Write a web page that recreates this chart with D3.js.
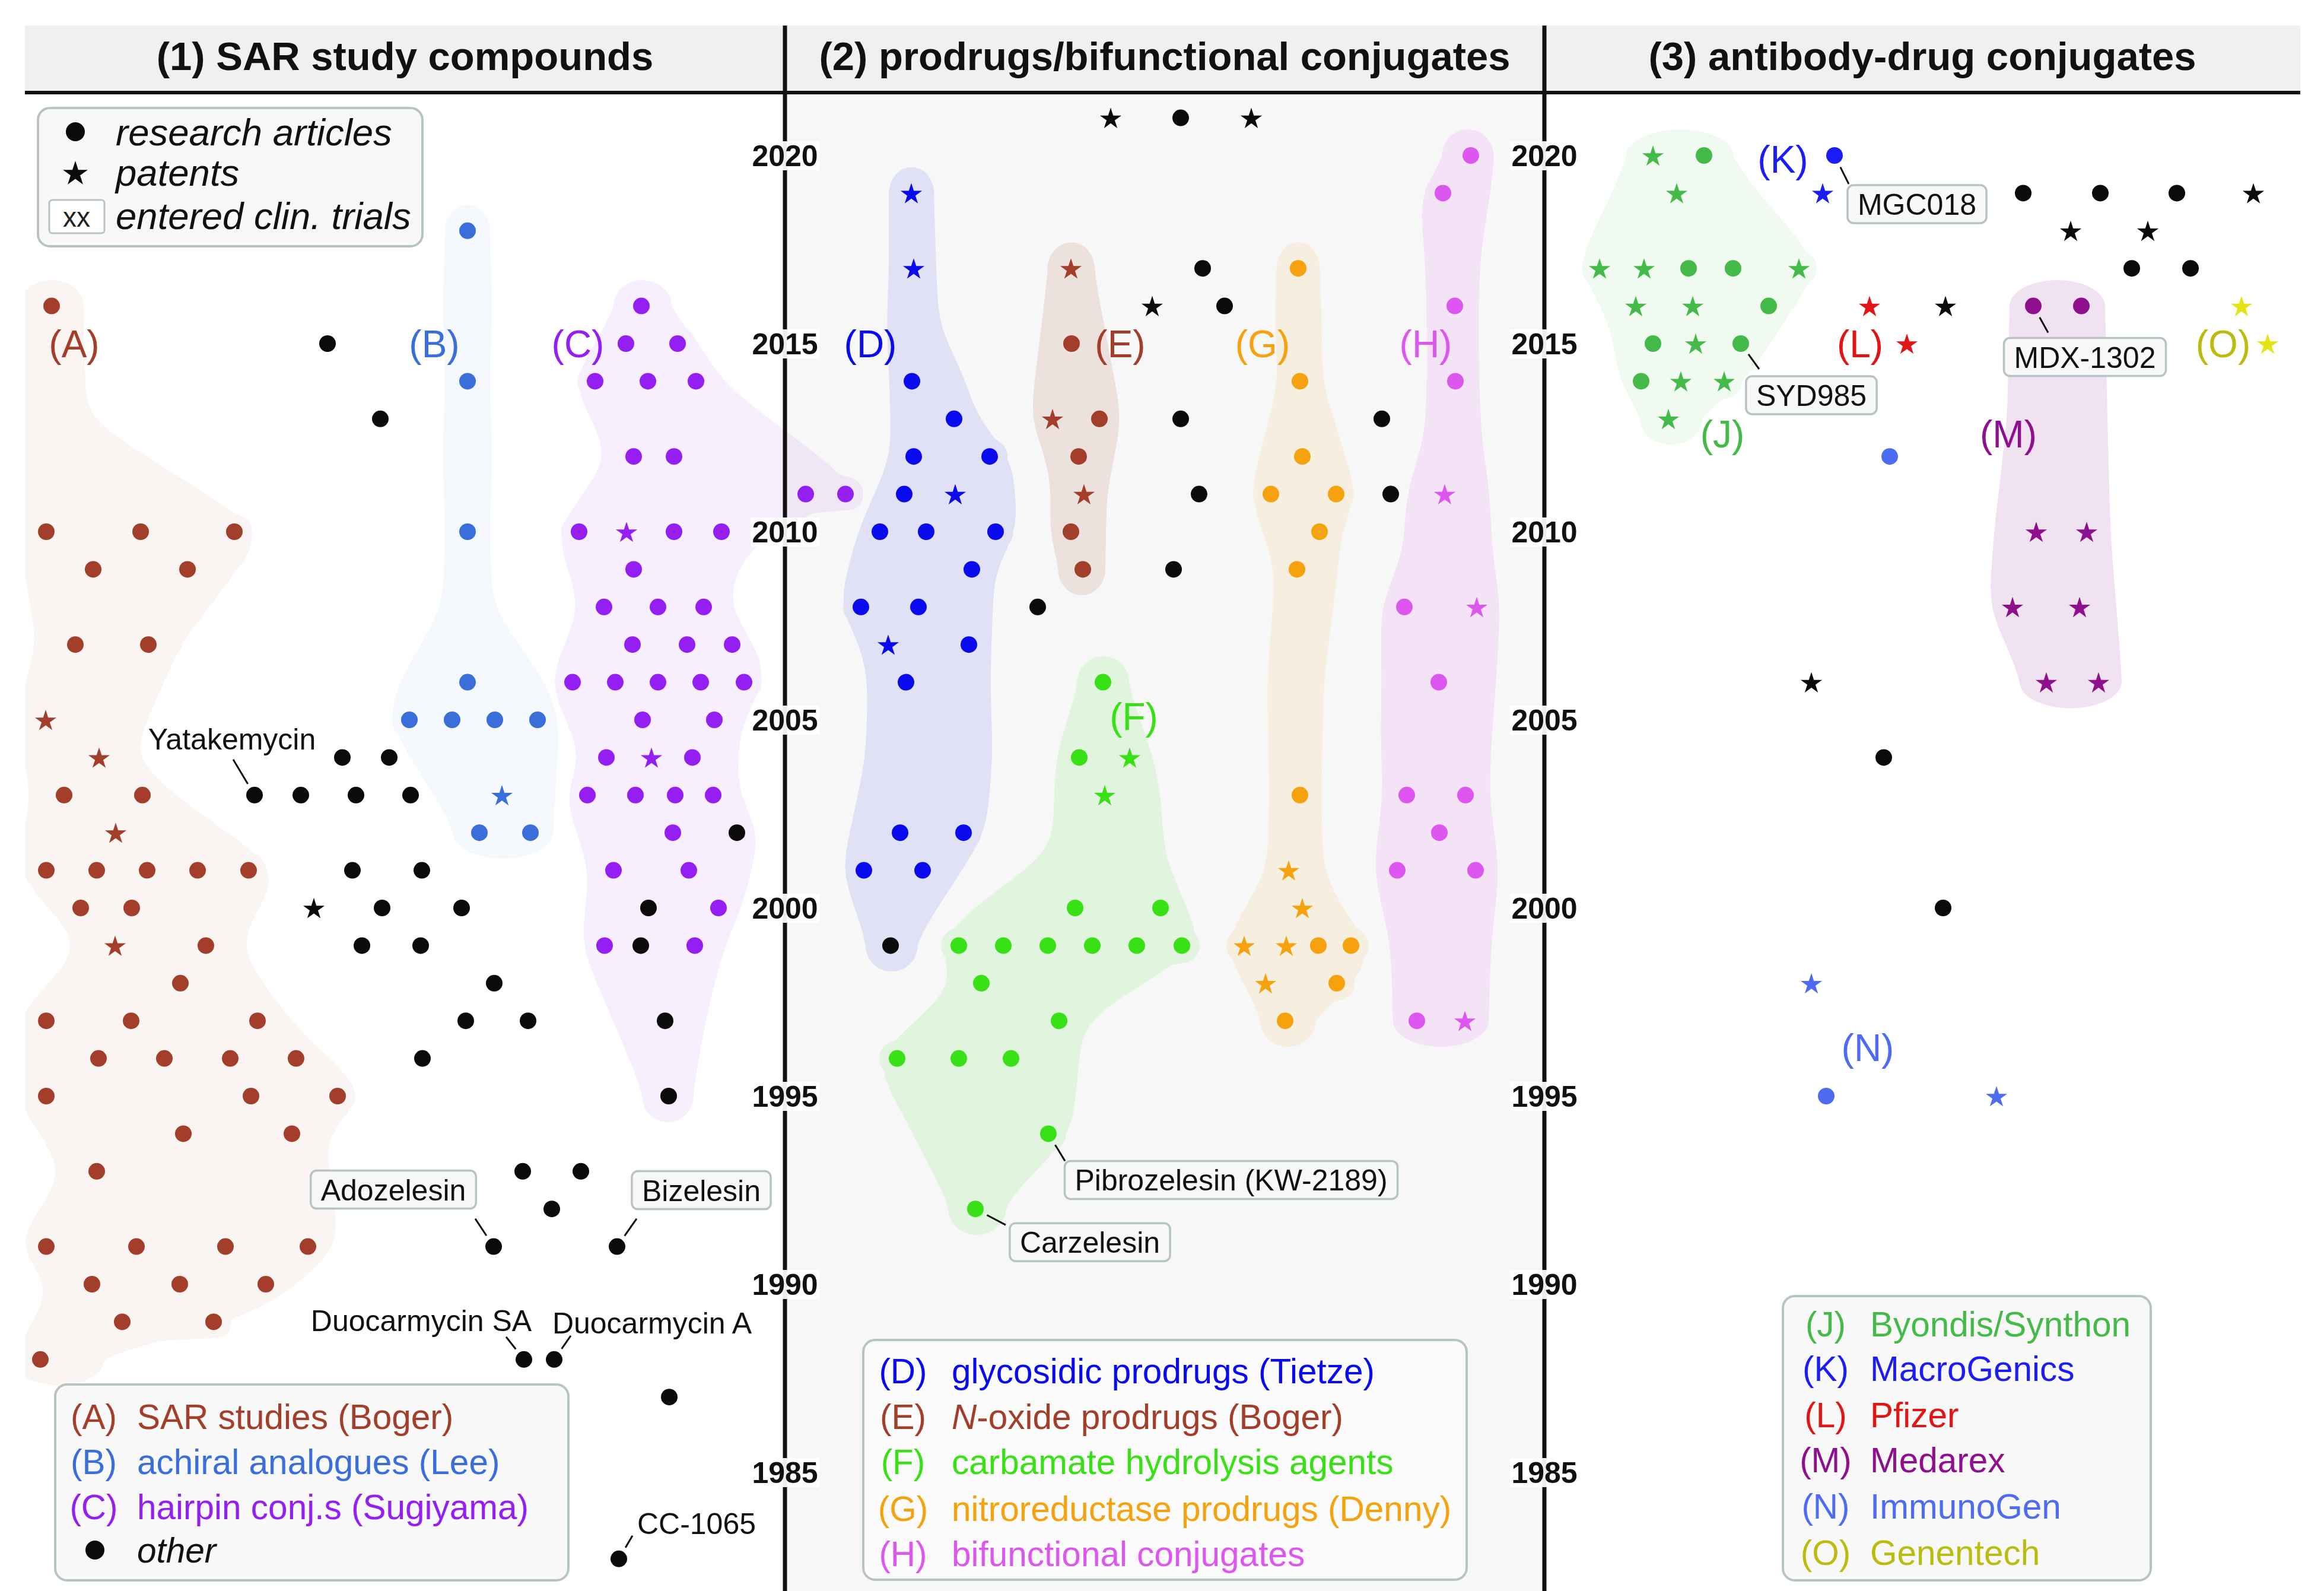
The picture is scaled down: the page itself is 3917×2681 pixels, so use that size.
<!DOCTYPE html>
<html><head><meta charset="utf-8">
<script src="https://cdn.jsdelivr.net/npm/d3@7"></script>
<style>body{margin:0;background:#fff}svg{display:block}</style>
</head><body>
<script>
// ---------------- DATA ----------------
const panelTitles = ["(1) SAR study compounds", "(2) prodrugs/bifunctional conjugates", "(3) antibody-drug conjugates"];
const yearTicks = [2020, 2015, 2010, 2005, 2000, 1995, 1990, 1985];
const groupIds = ["A","B","C","D","E","F","G","H","J","K","L","M","N","O"];
const groupNames = {
  A:"SAR studies (Boger)", B:"achiral analogues (Lee)", C:"hairpin conj.s (Sugiyama)",
  D:"glycosidic prodrugs (Tietze)", E:"N-oxide prodrugs (Boger)", F:"carbamate hydrolysis agents",
  G:"nitroreductase prodrugs (Denny)", H:"bifunctional conjugates",
  J:"Byondis/Synthon", K:"MacroGenics", L:"Pfizer", M:"Medarex", N:"ImmunoGen", O:"Genentech"
};
const legendGroups = [["A","B","C"],["D","E","F","G","H"],["J","K","L","M","N","O"]];
const symbolLegend = ["research articles", "patents", "entered clin. trials"];
// points: [year, lateral position, kind] kind: a = research article, p = patent
const ptsA = [[2016,87,'a'],[2010,78,'a'],[2010,237,'a'],[2010,395,'a'],[2009,157,'a'],[2009,316,'a'],
 [2007,127,'a'],[2007,250,'a'],[2005,77,'p'],[2004,167,'p'],[2003,108,'a'],[2003,240,'a'],[2002,195,'p'],
 [2001,78,'a'],[2001,163,'a'],[2001,248,'a'],[2001,333,'a'],[2001,419,'a'],[2000,136,'a'],[2000,222,'a'],
 [1999,194,'p'],[1999,347,'a'],[1998,304,'a'],[1997,78,'a'],[1997,221,'a'],[1997,434,'a'],
 [1996,166,'a'],[1996,277,'a'],[1996,388,'a'],[1996,499,'a'],[1995,78,'a'],[1995,423,'a'],[1995,569,'a'],
 [1994,309,'a'],[1994,492,'a'],[1993,163,'a'],[1991,78,'a'],[1991,230,'a'],[1991,380,'a'],[1991,519,'a'],
 [1990,155,'a'],[1990,303,'a'],[1990,448,'a'],[1989,206,'a'],[1989,360,'a'],[1988,68,'a']];
const ptsB = [[2018,788,'a'],[2014,788,'a'],[2010,788,'a'],[2006,788,'a'],[2005,690,'a'],[2005,762,'a'],
 [2005,834,'a'],[2005,906,'a'],[2003,846,'p'],[2002,808,'a'],[2002,894,'a']];
const ptsC = [[2016,1081,'a'],[2015,1055,'a'],[2015,1142,'a'],[2014,1003,'a'],[2014,1092,'a'],[2014,1173,'a'],
 [2012,1068,'a'],[2012,1136,'a'],[2011,1358,'a'],[2011,1425,'a'],[2010,976,'a'],[2010,1056,'p'],[2010,1136,'a'],
 [2010,1216,'a'],[2009,1068,'a'],[2008,1018,'a'],[2008,1109,'a'],[2008,1186,'a'],[2007,1066,'a'],[2007,1158,'a'],
 [2007,1234,'a'],[2006,965,'a'],[2006,1037,'a'],[2006,1109,'a'],[2006,1181,'a'],[2006,1254,'a'],[2005,1083,'a'],
 [2005,1204,'a'],[2004,1022,'a'],[2004,1098,'p'],[2004,1167,'a'],[2003,990,'a'],[2003,1071,'a'],[2003,1138,'a'],
 [2003,1202,'a'],[2002,1134,'a'],[2001,1034,'a'],[2001,1161,'a'],[2000,1211,'a'],[1999,1019,'a'],[1999,1171,'a']];
const ptsD = [[2019,1536,'p'],[2017,1540,'p'],[2014,1537,'a'],[2013,1608,'a'],[2012,1540,'a'],[2012,1668,'a'],
 [2011,1524,'a'],[2011,1610,'p'],[2010,1483,'a'],[2010,1561,'a'],[2010,1678,'a'],[2009,1638,'a'],
 [2008,1451,'a'],[2008,1548,'a'],[2007,1497,'p'],[2007,1633,'a'],[2006,1527,'a'],[2002,1517,'a'],[2002,1624,'a'],
 [2001,1456,'a'],[2001,1555,'a']];
const ptsE = [[2017,1805,'p'],[2015,1806,'a'],[2013,1774,'p'],[2013,1853,'a'],[2012,1818,'a'],[2011,1827,'p'],
 [2010,1805,'a'],[2009,1825,'a']];
const ptsF = [[2006,1859,'a'],[2004,1819,'a'],[2004,1904,'p'],[2003,1862,'p'],[2000,1812,'a'],[2000,1956,'a'],
 [1999,1616,'a'],[1999,1691,'a'],[1999,1766,'a'],[1999,1841,'a'],[1999,1916,'a'],[1999,1992,'a'],[1998,1654,'a'],
 [1997,1785,'a'],[1996,1512,'a'],[1996,1616,'a'],[1996,1704,'a'],[1994,1767,'a'],[1992,1644,'a']];
const ptsG = [[2017,2188,'a'],[2014,2191,'a'],[2012,2195,'a'],[2011,2142,'a'],[2011,2252,'a'],[2010,2224,'a'],
 [2009,2186,'a'],[2003,2191,'a'],[2001,2172,'p'],[2000,2195,'p'],[1999,2097,'p'],[1999,2168,'p'],[1999,2222,'a'],
 [1999,2277,'a'],[1998,2133,'p'],[1998,2253,'a'],[1997,2166,'a']];
const ptsH = [[2020,2479,'a'],[2019,2432,'a'],[2016,2452,'a'],[2014,2453,'a'],[2011,2435,'p'],[2008,2367,'a'],
 [2008,2489,'p'],[2006,2425,'a'],[2003,2371,'a'],[2003,2470,'a'],[2002,2426,'a'],[2001,2355,'a'],[2001,2487,'a'],
 [1997,2388,'a'],[1997,2469,'p']];
const ptsJ = [[2020,2786,'p'],[2020,2872,'a'],[2019,2826,'p'],[2017,2696,'p'],[2017,2771,'p'],[2017,2846,'a'],
 [2017,2921,'a'],[2017,3032,'p'],[2016,2757,'p'],[2016,2853,'p'],[2016,2981,'a'],[2015,2786,'a'],[2015,2858,'p'],
 [2015,2934,'a'],[2014,2766,'a'],[2014,2833,'p'],[2014,2906,'p'],[2013,2812,'p']];
const ptsK = [[2020,3092,'a'],[2019,3072,'p']];
const ptsL = [[2016,3151,'p'],[2015,3214,'p']];
const ptsM = [[2016,3427,'a'],[2016,3508,'a'],[2010,3432,'p'],[2010,3517,'p'],[2008,3392,'p'],[2008,3505,'p'],
 [2006,3449,'p'],[2006,3537,'p']];
const ptsN = [[2012,3185,'a'],[1998,3053,'p'],[1995,3078,'a'],[1995,3365,'p']];
const ptsO = [[2016,3778,'p'],[2015,3822,'p']];
// other compounds: [year, lateral position, kind, cluster they sit in]
const ptsOther = [[2015,552,'a'],[2013,641,'a'],[2004,577,'a'],[2004,656,'a'],[2003,429,'a'],[2003,507,'a'],
 [2003,600,'a'],[2003,692,'a'],[2001,594,'a'],[2001,711,'a'],[2000,529,'p'],[2000,644,'a'],[2000,778,'a'],
 [1999,610,'a'],[1999,709,'a'],[1998,833,'a'],[1997,785,'a'],[1997,890,'a'],[1996,712,'a'],[1993,881,'a'],
 [1993,979,'a'],[1992,930,'a'],[1991,832,'a'],[1991,1040,'a'],[1988,883,'a'],[1988,934,'a'],[1987,1128,'a'],
 [1982.7,1043,'a'],
 [2002,1242,'a','C'],[2000,1093,'a','C'],[1999,1080,'a','C'],[1997,1121,'a','C'],[1995,1127,'a','C'],
 [2021,1872,'p'],[2021,1990,'a'],[2021,2109,'p'],[2017,2027,'a'],[2016,1942,'p'],[2016,2064,'a'],
 [2013,1990,'a'],[2013,2329,'a'],[2011,2021,'a'],[2011,2344,'a'],[2009,1978,'a'],[2008,1749,'a'],
 [1999,1501,'a','D'],
 [2019,3410,'a'],[2019,3540,'a'],[2019,3669,'a'],[2019,3798,'p'],[2018,3490,'p'],[2018,3620,'p'],
 [2017,3593,'a'],[2017,3692,'a'],[2016,3279,'p'],[2006,3053,'p'],[2004,3175,'a'],[2000,3275,'a']];
const groupPoints = {A:ptsA,B:ptsB,C:ptsC,D:ptsD,E:ptsE,F:ptsF,G:ptsG,H:ptsH,J:ptsJ,K:ptsK,L:ptsL,M:ptsM,N:ptsN,O:ptsO};
const blobGroups = ["A","B","C","D","E","F","G","H","J","M"];
// named compounds: name, year, lateral position, entered clinical trials
const annotNames = ["Yatakemycin","Adozelesin","Bizelesin","Duocarmycin SA","Duocarmycin A","CC-1065",
  "Pibrozelesin (KW-2189)","Carzelesin","MGC018","SYD985","MDX-1302"];
const annotYears = [2003,1991,1991,1988,1988,1982.7,1994,1992,2020,2015,2016];
const annotX = [429,832,1040,883,934,1043,1767,1644,3092,2934,3427];
const annotClinical = [false,true,true,false,false,false,true,true,true,true,true];

// ---------------- LAYOUT / STYLE ----------------
const W = 3917, H = 2681;
const FONT = '"Liberation Sans", Arial, Helvetica, sans-serif';
const LY = { left:42, right:3877, headTop:43, headBot:153, headLine:156, dividers:[1323,2603],
  dotR:14, starR:19, padY:44 };
const colors = {A:"#a33e2a",B:"#3a6fdb",C:"#951ef2",D:"#0a0aee",E:"#a33e2a",F:"#38e016",G:"#f6a20e",
  H:"#de56f0",J:"#44ba48",K:"#1c1cf4",L:"#e21414",M:"#8e108e",N:"#4e6cf2",O:"#bcbc10",other:"#0b0b0b"};
const markColors = Object.assign({}, colors, {O:"#e4e414"});
const blobOpacity = {A:0.055,B:0.05,C:0.075,D:0.09,E:0.12,F:0.11,G:0.1,H:0.13,J:0.08,M:0.12};
const blobPadX = {A:54,B:38,C:40,D:38,E:38,F:40,G:36,H:40,J:40,M:40};
const groupLabelPos = {A:[2015,125],B:[2015,732],C:[2015,974],D:[2015,1467],E:[2015,1888],F:[2005.1,1911],
  G:[2015,2128],H:[2015,2403],J:[2012.6,2903],K:[2019.9,3005],L:[2015,3135],M:[2012.6,3385],N:[1996.3,3148],O:[2015,3747]};
const annotLayout = [[-38,-95,-36,-60],[-169,-96,-31,-47],[142,-95,33,-47],[-173,-66,-30,-38],[165,-62,28,-40],
  [131,-60,23,-39],[308,78,28,46],[193,56,51,27],[139,82,24,48],[119,87,31,43],[87,86,25,45]];

// ---------------- SCALES ----------------
const xs = d3.scaleLinear().domain([0, 3917]).range([0, W]);
const ys = d3.scaleLinear().domain([2020, 1985]).range([262, 2481]);

const svg = d3.select("body").append("svg").attr("width", W).attr("height", H)
  .attr("font-family", FONT);

// backgrounds
svg.append("rect").attr("x", LY.dividers[0]).attr("y", LY.headBot).attr("width", LY.dividers[1]-LY.dividers[0])
  .attr("height", H-LY.headBot).attr("fill", "#f7f7f7");
svg.append("rect").attr("x", LY.left).attr("y", LY.headTop).attr("width", LY.right-LY.left)
  .attr("height", LY.headBot-LY.headTop).attr("fill", "#eff0f0");
svg.append("defs").append("clipPath").attr("id","plotClip").append("rect")
  .attr("x", LY.left).attr("y", LY.headLine).attr("width", W-LY.left).attr("height", H-LY.headLine);

// ---------------- BLOBS (smoothed envelopes of each cluster) ----------------
function blobOutline(pts, padX) {
  const padY = LY.padY;
  const rows = d3.rollups(pts, v => [d3.min(v, p => p[0]), d3.max(v, p => p[0])], p => p[1])
    .sort((a,b) => a[0]-b[0]);
  const n = rows.length;
  const py = rows.map(r => r[0]);
  const Lx = rows.map(r => r[1][0] - padX), Rx = rows.map(r => r[1][1] + padX);
  const L2 = Lx.slice(), R2 = Rx.slice();
  for (let i = 1; i < n-1; i++) {
    const t = (py[i]-py[i-1])/(py[i+1]-py[i-1]);
    L2[i] = Math.min(Lx[i], Lx[i-1] + t*(Lx[i+1]-Lx[i-1]));
    R2[i] = Math.max(Rx[i], Rx[i-1] + t*(Rx[i+1]-Rx[i-1]));
  }
  const yr = ys(2019) - ys(2020);
  const rr = [];
  for (let i = 0; i < n; i++) {
    rr.push({y: py[i], l: L2[i], r: R2[i]});
    if (i < n-1 && py[i+1]-py[i] > 2.5*yr) {
      const wa = R2[i]-L2[i], wb = R2[i+1]-L2[i+1];
      const k = wa < wb ? i : i+1;
      rr.push({y: (py[i]+py[i+1])/2, l: L2[k]-4, r: R2[k]+4});
    }
  }
  const y0 = rr[0].y, y1 = rr[rr.length-1].y;
  const N = Math.max(2, Math.round((y1-y0)/4)+1);
  const step = (y1-y0)/(N-1);
  const gy = d3.range(N).map(i => y0 + step*i);
  const iL = d3.scaleLinear().domain(rr.map(d => d.y)).range(rr.map(d => d.l));
  const iR = d3.scaleLinear().domain(rr.map(d => d.y)).range(rr.map(d => d.r));
  const sig = 30, rad = Math.ceil(3*sig/step);
  const smooth = arr => arr.map((_, i) => {
    let s = 0, w = 0;
    for (let k = -rad; k <= rad; k++) {
      const j = Math.min(N-1, Math.max(0, i+k));
      const kw = Math.exp(-0.5*Math.pow(k*step/sig, 2));
      s += arr[j]*kw; w += kw;
    }
    return s/w;
  });
  const Lg = smooth(gy.map(iL)), Rg = smooth(gy.map(iR));
  const cov = LY.dotR + 16;
  pts.forEach(([px, pyy]) => gy.forEach((yy, i) => {
    const dy = Math.abs(yy - pyy);
    if (dy < cov) { const w = Math.sqrt(cov*cov - dy*dy); Lg[i] = Math.min(Lg[i], px - w); Rg[i] = Math.max(Rg[i], px + w); }
  }));
  const ring = [];
  // top cap
  {
    const c = (Lg[0]+Rg[0])/2, hw = (Rg[0]-Lg[0])/2;
    for (let a = Math.PI; a < 2*Math.PI; a += Math.PI/16) ring.push([c + hw*Math.cos(a), y0 + padY*Math.sin(a)]);
  }
  for (let i = 0; i < N; i++) ring.push([Rg[i], gy[i]]);
  {
    const c = (Lg[N-1]+Rg[N-1])/2, hw = (Rg[N-1]-Lg[N-1])/2;
    for (let a = Math.PI/16; a < Math.PI; a += Math.PI/16) ring.push([c + hw*Math.cos(a), y1 + padY*Math.sin(a)]);
  }
  for (let i = N-1; i >= 0; i--) ring.push([Lg[i], gy[i]]);
  return ring;
}
const blobLine = d3.line().curve(d3.curveBasisClosed);
const blobG = svg.append("g").attr("clip-path", "url(#plotClip)");
blobGroups.forEach(g => {
  const pts = groupPoints[g].map(d => [xs(d[1]), ys(d[0])])
    .concat(ptsOther.filter(d => d[3] === g).map(d => [xs(d[1]), ys(d[0])]));
  blobG.append("path").attr("d", blobLine(blobOutline(pts, blobPadX[g])))
    .attr("fill", colors[g]).attr("fill-opacity", blobOpacity[g]);
});

// header line + dividers
svg.append("line").attr("x1", LY.left).attr("x2", LY.right).attr("y1", LY.headLine).attr("y2", LY.headLine)
  .attr("stroke", "#111").attr("stroke-width", 6);
LY.dividers.forEach(dx => svg.append("line").attr("x1", dx).attr("x2", dx).attr("y1", LY.headTop).attr("y2", H)
  .attr("stroke", "#111").attr("stroke-width", 7));

// titles
const panelCenters = [(LY.left+LY.dividers[0])/2, (LY.dividers[0]+LY.dividers[1])/2, (LY.dividers[1]+LY.right)/2];
panelTitles.forEach((t,i) => svg.append("text").attr("x", panelCenters[i]).attr("y", 118)
  .attr("text-anchor","middle").attr("font-size", 67).attr("font-weight","bold").attr("fill","#111").text(t));

// ---------------- POINTS ----------------
const starPath = d3.symbol(d3.symbolStar, LY.starR*LY.starR/0.8908130915)();
function drawPoint(g, d, color) {
  const [yr, xv, kind] = d;
  if (kind === 'a') g.append("circle").attr("cx", xs(xv)).attr("cy", ys(yr)).attr("r", LY.dotR).attr("fill", color);
  else g.append("path").attr("d", starPath).attr("transform", `translate(${xs(xv)},${ys(yr)+2})`).attr("fill", color);
}
const ptG = svg.append("g");
groupIds.forEach(g => groupPoints[g].forEach(d => drawPoint(ptG, d, markColors[g])));
ptsOther.forEach(d => drawPoint(ptG, d, colors.other));

// ---------------- YEAR LABELS ----------------
LY.dividers.forEach(dx => yearTicks.forEach(yv => {
  svg.append("rect").attr("x", dx-58).attr("y", ys(yv)-24).attr("width", 116).attr("height", 49)
    .attr("fill", "#fff").attr("fill-opacity", 0.92);
  svg.append("text").attr("x", dx).attr("y", ys(yv)).attr("dy","0.36em").attr("text-anchor","middle")
    .attr("font-size", 50).attr("font-weight","bold").attr("fill","#111").text(yv);
}));

// ---------------- GROUP LABELS ----------------
groupIds.forEach(g => {
  const [yv, xv] = groupLabelPos[g];
  svg.append("text").attr("x", xs(xv)).attr("y", ys(yv)).attr("dy","0.36em").attr("text-anchor","middle")
    .attr("font-size", 64).attr("fill", colors[g]).text(`(${g})`);
});

// ---------------- ANNOTATIONS ----------------
annotNames.forEach((name, i) => {
  const px = xs(annotX[i]), py = ys(annotYears[i]);
  const [ldx, ldy, ex, ey] = annotLayout[i];
  const len = Math.hypot(ex, ey), s = 22/len;
  svg.append("line").attr("x1", px+ex*s).attr("y1", py+ey*s).attr("x2", px+ex).attr("y2", py+ey)
    .attr("stroke","#111").attr("stroke-width",3);
  const g = svg.append("g");
  const t = g.append("text").attr("x", px+ldx).attr("y", py+ldy).attr("dy","0.36em").attr("text-anchor","middle")
    .attr("font-size", 50).attr("fill","#111").text(name);
  if (annotClinical[i]) {
    const bb = t.node().getBBox();
    g.insert("rect", "text").attr("x", bb.x-17).attr("y", py+ldy-32).attr("width", bb.width+34).attr("height", 64)
      .attr("rx", 10).attr("fill","#f8f8f8").attr("stroke","#b8c4c4").attr("stroke-width",3.5);
  }
});

// ---------------- LEGENDS ----------------
function box(x, y, w, h, fill) {
  svg.append("rect").attr("x", x).attr("y", y).attr("width", w).attr("height", h).attr("rx", 20)
    .attr("fill", fill).attr("stroke", "#b8c4c4").attr("stroke-width", 4);
}
box(64, 182, 648, 233, "#f8f8f8");
svg.append("circle").attr("cx", 127).attr("cy", 222).attr("r", 16).attr("fill", colors.other);
svg.append("path").attr("d", d3.symbol(d3.symbolStar, 22*22/0.8908130915)()).attr("transform","translate(127,293)").attr("fill", colors.other);
svg.append("rect").attr("x", 83).attr("y", 337).attr("width", 93).attr("height", 56).attr("rx", 5)
  .attr("fill","#fff").attr("stroke","#b8c4c4").attr("stroke-width",3);
svg.append("text").attr("x", 129).attr("y", 365).attr("dy","0.36em").attr("text-anchor","middle")
  .attr("font-size", 46).attr("fill","#222").text("xx");
symbolLegend.forEach((t,i) => svg.append("text").attr("x", 195).attr("y", [222,290,363][i]).attr("dy","0.36em")
  .attr("font-size", 63.5).attr("font-style","italic").attr("fill","#111").text(t));

const legendBoxes = [[93,2333,865,330,"#f8f8f8"],[1455,2258,1017,404,"#fbfbfb"],[3005,2184,620,479,"#f8f8f8"]];
const legendRowY = [[2387,2463,2539,2612],[2310,2387,2463,2542,2618],[2231,2306,2384,2460,2538,2616]];
const legendCols = [[158,231],[1522,1604],[3077,3152]];
legendGroups.forEach((grp, k) => {
  const [bx, by, bw, bh, bf] = legendBoxes[k];
  box(bx, by, bw, bh, bf);
  grp.forEach((g, i) => {
    const yy = legendRowY[k][i];
    svg.append("text").attr("x", legendCols[k][0]).attr("y", yy).attr("dy","0.36em").attr("text-anchor","middle")
      .attr("font-size", 58.5).attr("fill", colors[g]).text(`(${g})`);
    const t = svg.append("text").attr("x", legendCols[k][1]).attr("y", yy).attr("dy","0.36em")
      .attr("font-size", 58.5).attr("fill", colors[g]);
    const nm = groupNames[g];
    if (nm.startsWith("N-")) { t.append("tspan").attr("font-style","italic").text("N"); t.append("tspan").text(nm.slice(1)); }
    else t.text(nm);
  });
});
svg.append("circle").attr("cx", 160).attr("cy", legendRowY[0][3]).attr("r", 16).attr("fill", colors.other);
svg.append("text").attr("x", 231).attr("y", legendRowY[0][3]).attr("dy","0.36em").attr("font-size", 58.5)
  .attr("font-style","italic").attr("fill","#111").text("other");
</script>
</body></html>
